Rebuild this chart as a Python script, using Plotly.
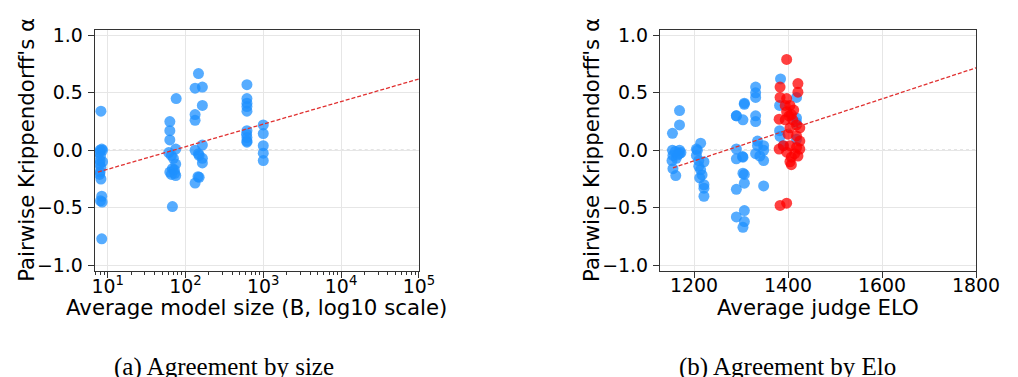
import numpy as np
import plotly.graph_objects as go

# ---------------- data ----------------
# (a) agreement by average model size (B)
size_x = [8.2, 8.4, 8.6, 8.0, 7.8, 8.1, 8.0, 8.6, 7.9, 8.2, 8.0, 7.9, 8.2, 8.4, 8.1, 8.5, 8.4,
          63, 63, 63, 76, 75, 61, 66, 70, 75, 68, 63, 73, 75, 68, 72, 66,
          147, 133, 165, 165, 133, 133, 165, 133, 147, 150, 165, 165, 145, 150, 133,
          617, 617, 617, 617, 617, 617, 610, 617, 617, 617,
          1000, 1000, 1000, 1000, 1000]
size_alpha = [0.34, 0.01, 0.0, 0.0, -0.02, -0.05, -0.09, -0.10, -0.12, -0.15, -0.19, -0.21, -0.25, -0.40, -0.44, -0.45, -0.77,
              0.25, 0.17, 0.09, 0.45, 0.01, -0.02, -0.045, -0.07, -0.12, -0.16, -0.19, -0.20, -0.22, -0.49, -0.17, -0.21,
              0.667, 0.54, 0.55, 0.39, 0.31, 0.26, 0.045, 0.0, -0.03, -0.045, -0.07, -0.11, -0.23, -0.235, -0.285,
              0.57, 0.45, 0.41, 0.38, 0.34, 0.17, 0.14, 0.11, 0.08, 0.07,
              0.22, 0.145, 0.04, -0.025, -0.09]
size_fit_x = [7.5, 1e5]
size_fit_y = [-0.19, 0.62]

# (b) agreement by average judge ELO
elo_blue_x = [1154, 1169, 1169, 1154, 1169, 1155, 1162, 1153, 1155, 1161, 1169, 1172, 1160, 1165,
              1214, 1207, 1205, 1210, 1221, 1210, 1214, 1217, 1221, 1221, 1221, 1212, 1205,
              1290, 1290, 1304, 1304, 1307, 1290, 1307, 1307, 1290, 1307, 1290, 1307, 1304, 1290, 1304, 1307, 1303,
              1331, 1331, 1331, 1331, 1331, 1335, 1335, 1331, 1348, 1348, 1348, 1340, 1348,
              1384, 1382, 1382, 1383, 1418, 1418, 1418, 1418, 1390]
elo_blue_alpha = [0.147, 0.345, 0.22, 0.0, 0.0, -0.045, -0.07, -0.09, -0.16, -0.22, -0.03, -0.02, -0.01, -0.04,
                  0.062, 0.0, 0.01, -0.09, -0.10, -0.14, -0.17, -0.215, -0.30, -0.33, -0.40, -0.24, -0.045,
                  0.011, -0.074, -0.06, -0.20, -0.286, -0.34, -0.525, -0.62, -0.58, -0.21, 0.30, 0.41, 0.265, 0.30, -0.67, 0.40, -0.055,
                  0.55, 0.50, 0.46, 0.30, 0.25, 0.08, 0.04, -0.03, 0.04, 0.0, -0.09, -0.05, -0.31,
                  0.62, 0.39, 0.17, 0.12, 0.46, 0.28, 0.24, 0.095, 0.04]
elo_red_x = [1397, 1383, 1383, 1381, 1381, 1383, 1397, 1421, 1421, 1397, 1404, 1397, 1407, 1394,
             1404, 1418, 1425, 1400, 1418, 1425, 1404, 1418, 1425, 1397, 1414, 1407, 1404, 1407,
             1421, 1390, 1410, 1394, 1412, 1402]
elo_red_alpha = [0.79, 0.55, 0.46, 0.27, 0.01, -0.48, -0.46, 0.58, 0.505, 0.45, 0.39, 0.335, 0.31, 0.265,
                 0.195, 0.22, 0.195, 0.14, 0.125, 0.08, 0.04, 0.025, 0.01, -0.017, -0.03, -0.06, -0.10, -0.125,
                 -0.05, 0.04, 0.265, 0.39, 0.35, 0.30]
elo_fit_x = [1155, 1800]
elo_fit_y = [-0.153, 0.717]

y_ticks = [-1.0, -0.5, 0.0, 0.5, 1.0]
size_ticks = [10, 100, 1000, 10000, 100000]
size_tick_text = ["10<sup>1</sup>", "10<sup>2</sup>", "10<sup>3</sup>", "10<sup>4</sup>", "10<sup>5</sup>"]
elo_ticks = [1200, 1400, 1600, 1800]
captions = ["(a) Agreement by size", "(b) Agreement by Elo"]

# ---------------- styling ----------------
W, H = 1018, 377
BLUE = "rgba(30,144,255,0.75)"
RED = "rgba(255,0,0,0.75)"
FONT = "DejaVu Sans"
TICKF = 18.9
LABF = 21.3
CAPF = "Liberation Serif"
CAPS = 25
FRAME = "#333333"

def px_x(p):
    return p / W

def px_y(p):
    return 1 - p / H

fig = go.Figure()

fig.add_trace(go.Scatter(x=size_x, y=size_alpha, mode="markers", xaxis="x", yaxis="y",
                         marker=dict(size=11, color=BLUE, line=dict(width=0)), showlegend=False))
fig.add_trace(go.Scatter(x=size_fit_x, y=size_fit_y, mode="lines", xaxis="x", yaxis="y",
                         line=dict(color="#e03030", width=1.3, dash="4px,2px"), showlegend=False))

fig.add_trace(go.Scatter(x=elo_blue_x, y=elo_blue_alpha, mode="markers", xaxis="x2", yaxis="y2",
                         marker=dict(size=11, color=BLUE, line=dict(width=0)), showlegend=False))
fig.add_trace(go.Scatter(x=elo_red_x, y=elo_red_alpha, mode="markers", xaxis="x2", yaxis="y2",
                         marker=dict(size=11, color=RED, line=dict(width=0)), showlegend=False))
fig.add_trace(go.Scatter(x=elo_fit_x, y=elo_fit_y, mode="lines", xaxis="x2", yaxis="y2",
                         line=dict(color="#e03030", width=1.3, dash="4px,2px"), showlegend=False))

# zero reference lines
for xr, yr in [("x domain", "y"), ("x2 domain", "y2")]:
    fig.add_shape(type="line", xref=xr, yref=yr, x0=0, x1=1, y0=0, y1=0,
                  line=dict(color="#888888", width=0.9, dash="dot"), layer="below")

common_y = dict(range=[-1.05, 1.05], tickvals=y_ticks, tickformat=".1f", ticks="outside",
                ticklen=6, tickwidth=1, tickcolor=FRAME, showgrid=True, gridcolor="#e6e6e6",
                gridwidth=1, zeroline=False, showline=True, linecolor=FRAME, linewidth=1.2,
                mirror=True, ticklabelstandoff=1,
                tickfont=dict(family=FONT, size=TICKF, color="black"))

ydom = [px_y(265), px_y(17)]

fig.update_layout(
    width=W, height=H,
    margin=dict(l=0, r=0, t=0, b=0),
    paper_bgcolor="white", plot_bgcolor="white",
    font=dict(family=FONT, color="black"),
    xaxis=dict(type="log", domain=[px_x(86), px_x(419)], range=[0.834, 5.0],
               tickvals=size_ticks, ticktext=size_tick_text, ticks="outside", ticklen=6,
               tickwidth=1, tickcolor=FRAME, showgrid=True, gridcolor="#e6e6e6",
               zeroline=False, showline=True, linecolor=FRAME, linewidth=1.2, mirror=True,
               ticklabelstandoff=-8,
               tickfont=dict(family=FONT, size=TICKF, color="black"),
               minor=dict(ticks="outside", ticklen=3, tickcolor=FRAME, dtick="D1", showgrid=False),
               anchor="y"),
    yaxis=dict(domain=ydom, anchor="x", **common_y),
    xaxis2=dict(domain=[px_x(666.7), px_x(991.3)], range=[1127.5, 1800],
                tickvals=elo_ticks, ticks="outside", ticklen=6, tickwidth=1, tickcolor=FRAME,
                showgrid=True, gridcolor="#e6e6e6", zeroline=False, showline=True,
                linecolor=FRAME, linewidth=1.2, mirror=True, ticklabelstandoff=-9,
                tickfont=dict(family=FONT, size=TICKF, color="black"), anchor="y2"),
    yaxis2=dict(domain=ydom, anchor="x2", **common_y),
)

# axis titles as annotations
ann = []
for xc in (16, 596.5):
    ann.append(dict(text="Pairwise Krippendorff's α", x=px_x(xc), y=px_y(141), xref="paper", yref="paper",
                    textangle=-90, showarrow=False, font=dict(family=FONT, size=LABF, color="black"),
                    xanchor="center", yanchor="middle"))
ann.append(dict(text="Average model size (B, log10 scale)", x=px_x(252.5), y=px_y(302.5), xref="paper",
                yref="paper", showarrow=False, font=dict(family=FONT, size=LABF, color="black"),
                xanchor="center", yanchor="middle"))
ann.append(dict(text="Average judge ELO", x=px_x(829), y=px_y(302.5), xref="paper",
                yref="paper", showarrow=False, font=dict(family=FONT, size=LABF, color="black"),
                xanchor="center", yanchor="middle"))
ann.append(dict(text=captions[0], x=px_x(218.5), y=px_y(364), xref="paper", yref="paper",
                showarrow=False, font=dict(family=CAPF, size=CAPS, color="black"),
                xanchor="center", yanchor="middle"))
ann.append(dict(text=captions[1], x=px_x(798), y=px_y(364), xref="paper", yref="paper",
                showarrow=False, font=dict(family=CAPF, size=CAPS, color="black"),
                xanchor="center", yanchor="middle"))
fig.update_layout(annotations=ann)

fig.write_html("out.html")
